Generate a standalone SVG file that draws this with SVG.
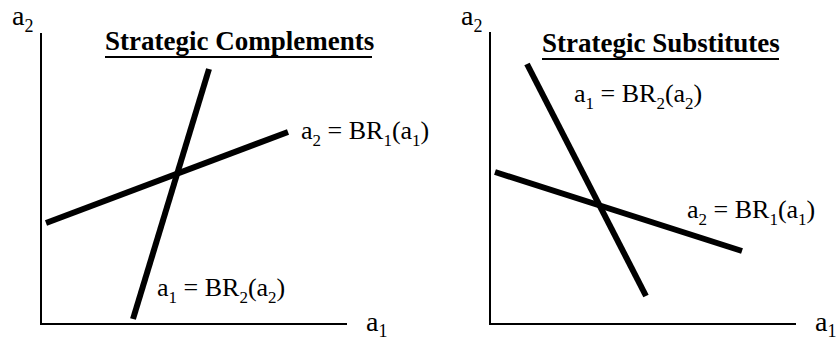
<svg xmlns="http://www.w3.org/2000/svg" width="838" height="339" viewBox="0 0 838 339">
<style>
.axis{stroke:#000;stroke-width:2;fill:none}
.br{stroke:#000;stroke-width:6;fill:none}
.t{font-family:"Liberation Serif","Times New Roman",serif;font-size:26px;fill:#000}
.ax{font-family:"Liberation Serif","Times New Roman",serif;font-size:28px;fill:#000}
.ttl{font-family:"Liberation Serif","Times New Roman",serif;font-size:27px;font-weight:bold;fill:#000}
.ul{stroke:#000;stroke-width:2}
</style>
<g id="left-panel">
  <g id="left-axes">
    <path class="axis" d="M41,33 V325 M40,324 H347"/>
    <text class="ax" x="12" y="25">a<tspan font-size="18" dy="7">2</tspan></text>
    <text class="ax" x="366" y="331">a<tspan font-size="18" dy="6">1</tspan></text>
  </g>
  <g id="left-title">
    <text class="ttl" x="105" y="50">Strategic Complements</text>
    <line class="ul" x1="105" y1="57" x2="372" y2="57"/>
  </g>
  <g id="connectors-left">
    <line class="br" x1="209" y1="69" x2="133" y2="319"/>
    <line class="br" x1="46" y1="223" x2="288" y2="132"/>
  </g>
  <text class="t" x="301" y="139">a<tspan font-size="17" dy="7">2</tspan><tspan dy="-7"> = BR</tspan><tspan font-size="17" dy="7">1</tspan><tspan dy="-7">(a</tspan><tspan font-size="17" dy="7">1</tspan><tspan dy="-7">)</tspan></text>
  <text class="t" x="157" y="296">a<tspan font-size="17" dy="7">1</tspan><tspan dy="-7"> = BR</tspan><tspan font-size="17" dy="7">2</tspan><tspan dy="-7">(a</tspan><tspan font-size="17" dy="7">2</tspan><tspan dy="-7">)</tspan></text>
</g>
<g id="right-panel">
  <g id="right-axes">
    <path class="axis" d="M490,32 V325 M489,324 H796"/>
    <text class="ax" x="461" y="25">a<tspan font-size="18" dy="7">2</tspan></text>
    <text class="ax" x="815" y="331">a<tspan font-size="18" dy="6">1</tspan></text>
  </g>
  <g id="right-title">
    <text class="ttl" x="542" y="52">Strategic Substitutes</text>
    <line class="ul" x1="542" y1="59" x2="779" y2="59"/>
  </g>
  <g id="connectors-right">
    <line class="br" x1="527" y1="64" x2="646" y2="296"/>
    <line class="br" x1="495" y1="172" x2="742" y2="251"/>
  </g>
  <text class="t" x="574" y="102">a<tspan font-size="17" dy="7">1</tspan><tspan dy="-7"> = BR</tspan><tspan font-size="17" dy="7">2</tspan><tspan dy="-7">(a</tspan><tspan font-size="17" dy="7">2</tspan><tspan dy="-7">)</tspan></text>
  <text class="t" x="687" y="218">a<tspan font-size="17" dy="7">2</tspan><tspan dy="-7"> = BR</tspan><tspan font-size="17" dy="7">1</tspan><tspan dy="-7">(a</tspan><tspan font-size="17" dy="7">1</tspan><tspan dy="-7">)</tspan></text>
</g>
</svg>
